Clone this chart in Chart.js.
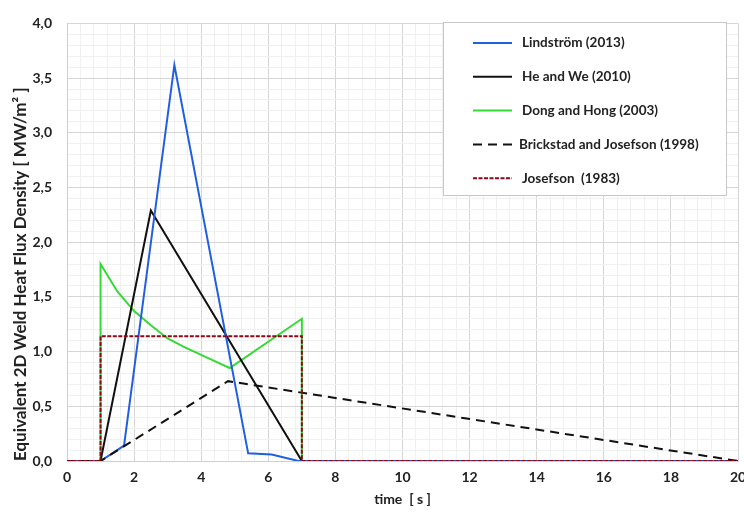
<!DOCTYPE html>
<html>
<head>
<meta charset="utf-8">
<script src="https://cdn.jsdelivr.net/npm/chart.js@4"></script>
<style>
  body { margin: 0; background: #fff; }
  #wrap { width: 744px; height: 512px; }
</style>
</head>
<body>
<div id="wrap"><canvas id="myChart" width="744" height="512"></canvas></div>
<script>
// series data: time [s] and flux [MW/m2]
const lindstromT = [0, 1, 1.7, 3.2, 5.4, 6.1, 6.9, 20];
const lindstromQ = [0, 0, 0.14, 3.62, 0.07, 0.06, 0, 0];

const heWeT = [0, 1, 2.5, 7, 20];
const heWeQ = [0, 0, 2.29, 0, 0];

const dongHongT = [0, 1, 1, 1.5, 2, 2.5, 3, 3.5, 4, 4.5, 4.85, 7, 7, 20];
const dongHongQ = [0, 0, 1.8, 1.55, 1.37, 1.24, 1.12, 1.04, 0.97, 0.9, 0.85, 1.3, 0, 0];

const brickstadT = [0, 1, 4.8, 20];
const brickstadQ = [0, 0, 0.73, 0];

const josefsonT = [0, 1, 1, 7, 7, 20];
const josefsonQ = [0, 0, 1.14, 1.14, 0, 0];

const seriesLabels = ['Lindström (2013)', 'He and We (2010)', 'Dong and Hong (2003)',
    'Brickstad and Josefson (1998)', 'Josefson  (1983)'];

const xMajor = 2;
const yMajor = 0.5;

function pts(t, q) {
    return t.map((v, i) => ({ x: v, y: q[i] }));
}

function isMajor(v, step) {
    const r = v / step;
    return Math.abs(r - Math.round(r)) < 1e-6;
}

const FONT = 'Lato, "DejaVu Sans", sans-serif';

// legend drawn as a boxed panel inside the plot, like the original
const boxLegend = {
    id: 'boxLegend',
    afterDraw(chart) {
        const ctx = chart.ctx;
        const x0 = 443, y0 = 22, w = 283, h = 173;
        ctx.save();
        ctx.fillStyle = '#fff';
        ctx.fillRect(x0, y0, w, h);
        ctx.strokeStyle = '#c8c8c8';
        ctx.lineWidth = 1;
        ctx.strokeRect(x0 + 0.5, y0 + 0.5, w, h);
        ctx.font = 'bold 13.5px ' + FONT;
        ctx.textBaseline = 'middle';
        const items = chart.data.datasets.slice().sort((a, b) => a.legendPos - b.legendPos);
        items.forEach((ds, i) => {
            const y = y0 + 21 + i * 33.8;
            ctx.strokeStyle = ds.borderColor;
            ctx.lineWidth = 2;
            ctx.setLineDash(ds.borderDash || []);
            ctx.beginPath();
            ctx.moveTo(473, y);
            ctx.lineTo(512, y);
            ctx.stroke();
            ctx.setLineDash([]);
            ctx.fillStyle = '#222';
            ctx.fillText(ds.label, i === 3 ? 519 : 522, y);
        });
        ctx.restore();
    }
};

const ctx = document.getElementById('myChart').getContext('2d');
new Chart(ctx, {
    type: 'line',
    data: {
        datasets: [
            { label: seriesLabels[0], legendPos: 0, order: 2, data: pts(lindstromT, lindstromQ), borderColor: '#1f5fe0' },
            { label: seriesLabels[1], legendPos: 1, order: 3, data: pts(heWeT, heWeQ), borderColor: '#111' },
            { label: seriesLabels[2], legendPos: 2, order: 4, data: pts(dongHongT, dongHongQ), borderColor: '#35d935' },
            { label: seriesLabels[3], legendPos: 3, order: 1, data: pts(brickstadT, brickstadQ), borderColor: '#111', borderDash: [9, 6] },
            { label: seriesLabels[4], legendPos: 4, order: 0, data: pts(josefsonT, josefsonQ), borderColor: '#8b0a1a', borderDash: [4, 1.5] },
        ].map(d => Object.assign({ borderWidth: 2, pointRadius: 0, tension: 0, fill: false }, d))
    },
    options: {
        animation: false,
        responsive: false,
        layout: { padding: { top: 17, right: 6, left: 0, bottom: 0 } },
        plugins: { legend: { display: false }, tooltip: { enabled: false } },
        scales: {
            x: {
                type: 'linear', min: 0, max: 20,
                ticks: {
                    stepSize: 0.4, autoSkip: false, maxRotation: 0, padding: 8,
                    color: '#222', font: { family: FONT, size: 14, weight: 'bold' },
                    callback: v => isMajor(v, xMajor) ? String(Math.round(v)) : ''
                },
                grid: {
                    drawTicks: false,
                    color: c => isMajor(c.tick.value, xMajor) ? '#d6d6d6' : '#f0f0f0'
                },
                border: { color: '#cfcfcf' },
                title: {
                    display: true, text: 'time  [ s ]', color: '#222', padding: { top: 4 },
                    font: { family: FONT, size: 14, weight: 'bold' }
                },
                afterFit(s) { s.height = 51; s.paddingRight = 0; }
            },
            y: {
                min: 0, max: 4,
                ticks: {
                    stepSize: 0.1, autoSkip: false, padding: 15,
                    color: '#222', font: { family: FONT, size: 14, weight: 'bold' },
                    callback: v => isMajor(v, yMajor) ? v.toFixed(1).replace('.', ',') : ''
                },
                grid: {
                    drawTicks: false,
                    color: c => isMajor(c.tick.value, yMajor) ? '#d6d6d6' : '#f0f0f0'
                },
                border: { color: '#cfcfcf' },
                title: {
                    display: true, align: 'start',
                    text: 'Equivalent 2D Weld Heat Flux Density [ MW/m² ]',
                    color: '#222', padding: { top: 10, bottom: 0 },
                    font: { family: FONT, size: 17, weight: 'bold' }
                },
                afterFit(s) { s.width = 67; }
            }
        }
    },
    plugins: [boxLegend]
});
</script>
</body>
</html>
